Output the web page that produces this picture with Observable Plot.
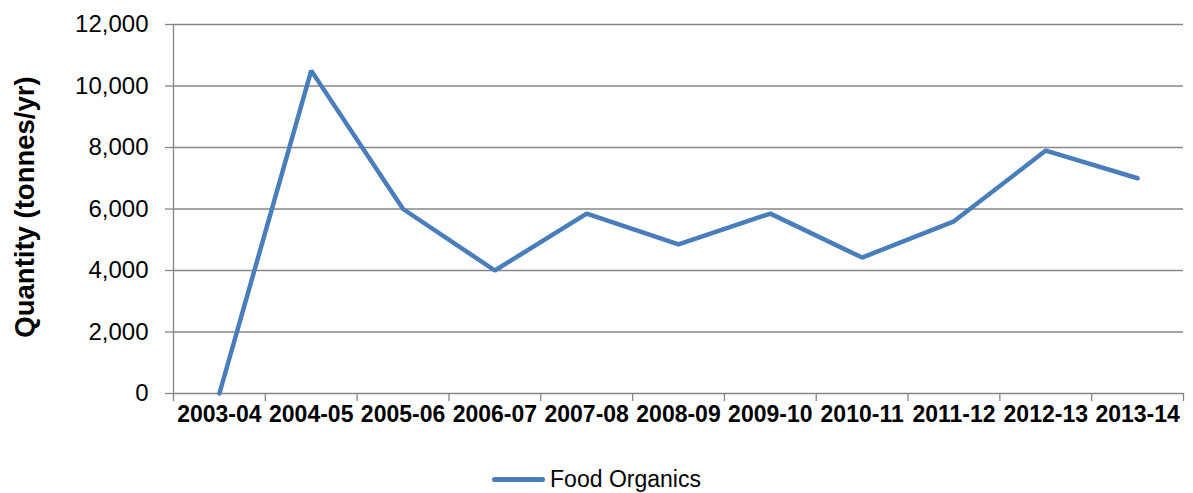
<!DOCTYPE html>
<html>
<head>
<meta charset="utf-8">
<script src="https://cdn.jsdelivr.net/npm/d3@7"></script>
<script src="https://cdn.jsdelivr.net/npm/@observablehq/plot@0.6"></script>
<style>
  html, body { margin: 0; padding: 0; background: #fff; }
  body { width: 1193px; font-family: "Liberation Sans", Arial, sans-serif; }
  #legend { display: flex; justify-content: center; align-items: center; margin-top: 16px; font-size: 23px; color: #000; }
  #legend .swatch { display: inline-block; width: 53px; height: 5px; border-radius: 3px; background: #4a7ebb; margin-right: 5px; }
</style>
</head>
<body>
<div id="chart"></div>
<div id="legend"><span class="swatch"></span><span>Food Organics</span></div>
<script>
const years = ["2003-04","2004-05","2005-06","2006-07","2007-08","2008-09","2009-10","2010-11","2011-12","2012-13","2013-14"];
const quantity = [0, 10500, 6000, 4000, 5850, 4850, 5850, 4420, 5600, 7900, 7000];
const yTicks = [0, 2000, 4000, 6000, 8000, 10000, 12000];
const yLabel = "Quantity (tonnes/yr)";
const seriesName = "Food Organics";

const data = years.map((y, i) => ({i, year: y, value: quantity[i]}));
const idx = d3.range(years.length);
const bounds = d3.range(years.length + 1).map(k => k - 0.5);
const gray = "#868686";
const blue = "#4a7ebb";

const chart = Plot.plot({
  width: 1193,
  height: 450,
  marginTop: 24,
  marginBottom: 57,
  marginLeft: 173,
  marginRight: 10,
  style: {fontFamily: "'Liberation Sans', Arial, sans-serif", fontSize: "23px", color: "#000", background: "#fff"},
  x: {type: "linear", domain: [-0.5, years.length - 0.5], axis: null},
  y: {domain: [0, 12000], axis: null},
  marks: [
    Plot.gridY(yTicks, {stroke: gray, strokeOpacity: 1, strokeWidth: 1.3}),
    Plot.ruleX([-0.5], {stroke: gray, strokeWidth: 1.3}),
    Plot.axisY(yTicks, {tickSize: 8, tickPadding: 17, stroke: gray, strokeWidth: 1.3, fill: "#000", fontSize: 24, tickFormat: d3.format(","), label: null}),
    Plot.axisX(bounds, {tickSize: 8, stroke: gray, strokeWidth: 1.3, fill: "none", label: null}),
    Plot.axisX(idx, {tickSize: 0, tickPadding: 12, tickFormat: i => years[i], fontSize: 23, fontWeight: "bold", fill: "#000", label: null}),
    Plot.text([yLabel], {frameAnchor: "left", textAnchor: "middle", lineAnchor: "middle", dx: -148, dy: -2, rotate: -90, fontSize: 27.5, fontWeight: "bold", fill: "#000"}),
    Plot.lineY(data, {x: "i", y: "value", stroke: blue, strokeWidth: 4.5, strokeLinejoin: "miter", strokeLinecap: "round"})
  ]
});
document.getElementById("chart").append(chart);
document.querySelector("#legend span:last-child").textContent = seriesName;
</script>
</body>
</html>
